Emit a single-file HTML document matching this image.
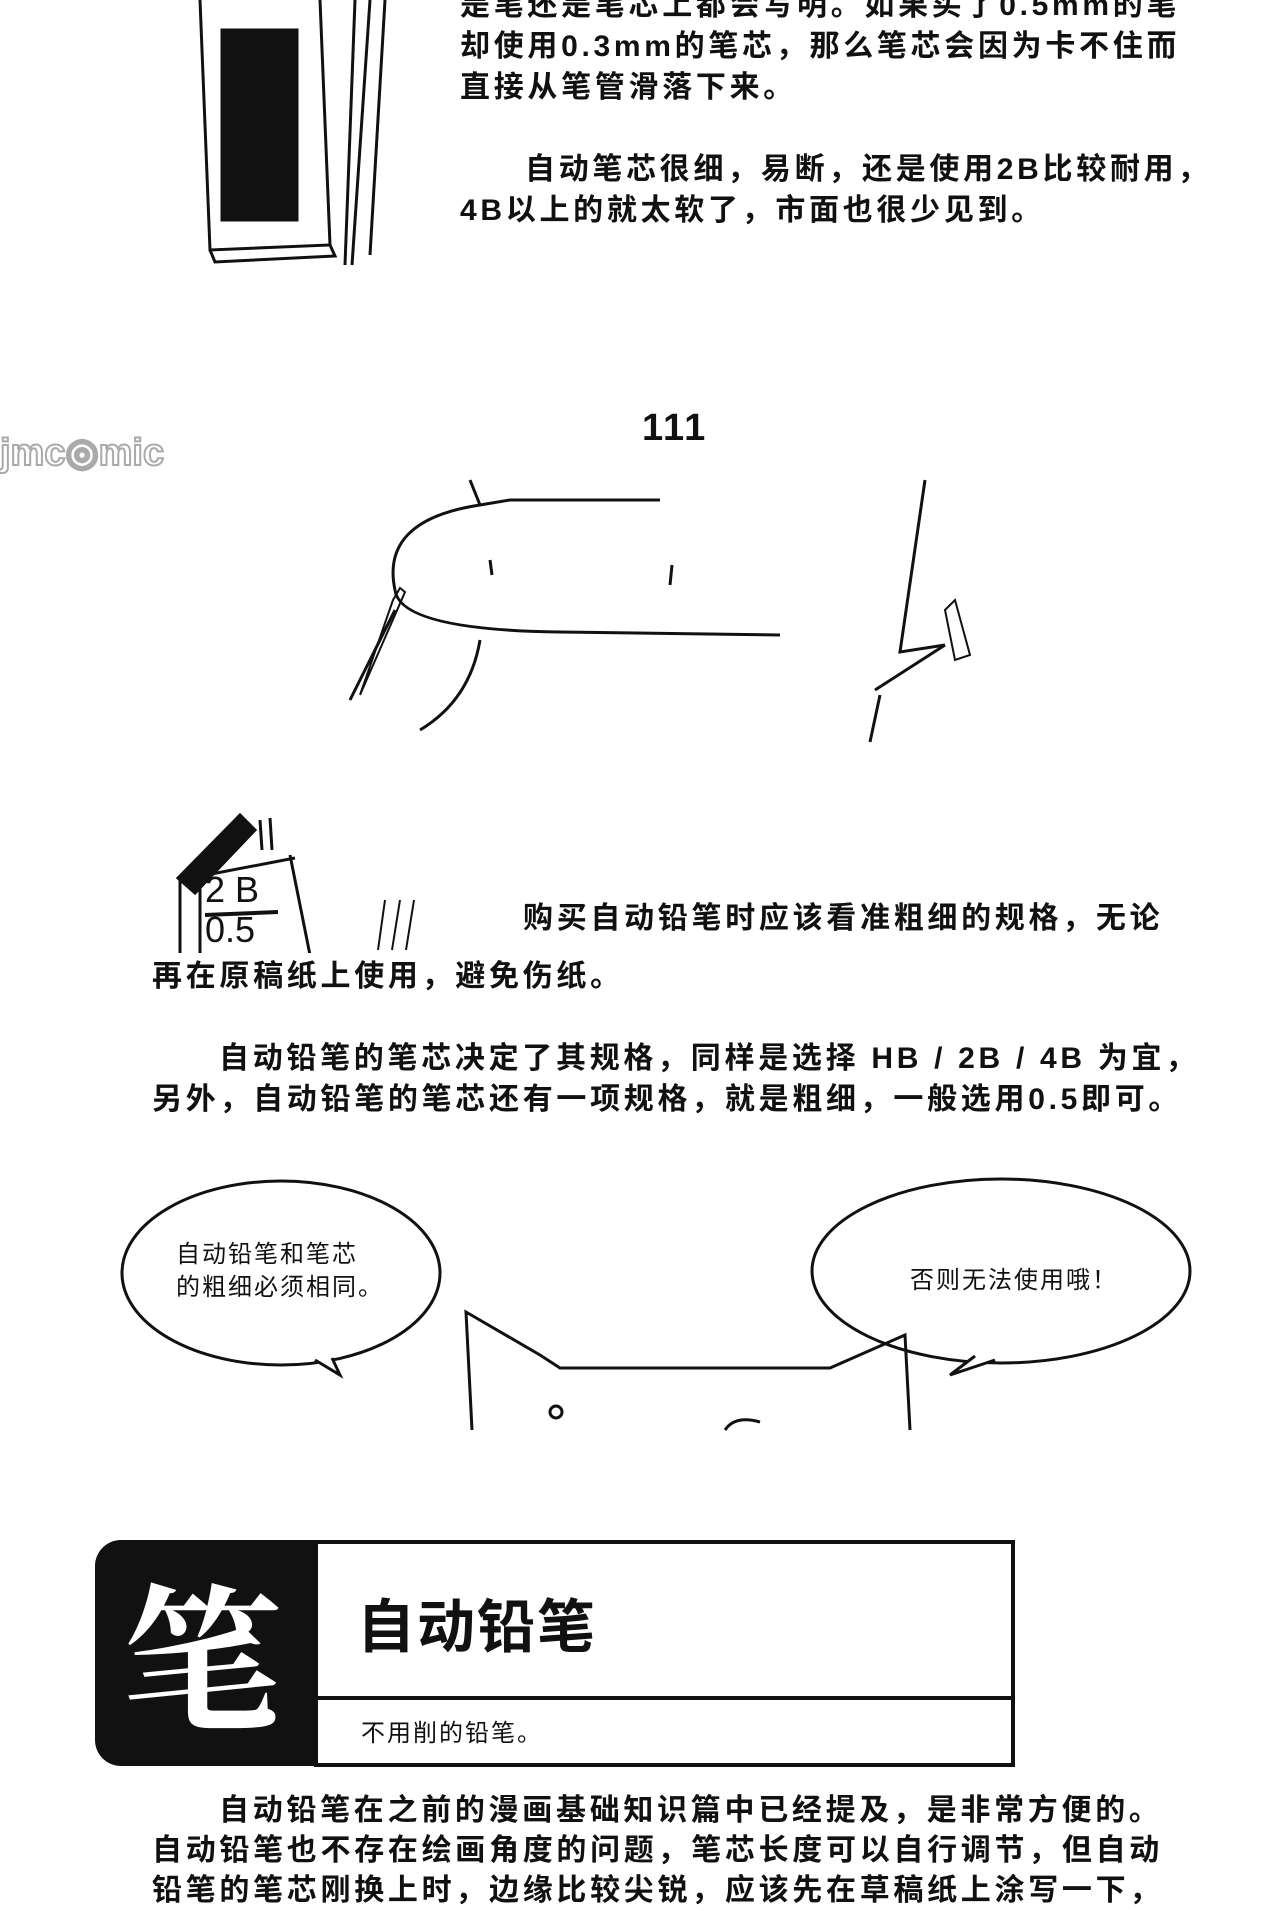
<!DOCTYPE html>
<html><head><meta charset="utf-8">
<style>
body{margin:0;width:1280px;height:1904px;background:#fff;position:relative;overflow:hidden;font-family:"Liberation Sans","Noto Sans CJK SC",sans-serif;color:#111}
.t{position:absolute;white-space:nowrap;font-size:30px;font-weight:bold;letter-spacing:3.7px;line-height:41px}
svg{position:absolute;left:0;top:0}
</style></head><body>
<svg width="1280" height="1904" viewBox="0 0 1280 1904">
<g fill="none" stroke="#111" stroke-width="3">
<path d="M200 0 L210 250 L330 245 L320 0"/>
<rect x="222" y="30" width="75" height="190" fill="#111"/>
<path d="M210 250 L215 262 L335 256 L330 245"/>
<path d="M355 0 L345 265 M370 0 L352 265 M385 0 L370 255"/>
<path d="M395 590 Q380 520 480 505 L510 500 Q640 500 660 500"/>
<path d="M395 590 Q400 630 560 632 L780 635"/>
<path d="M480 505 L470 480"/>
<path d="M925 480 L900 652 L945 645"/>
<path d="M880 695 L870 742"/>
<path d="M945 645 L875 690"/>
<path d="M480 640 Q470 700 420 730"/>
<path d="M395 610 L350 700"/>
<path d="M393 600 L400 588 L405 592 L360 695 Z" stroke-width="2"/>
<path d="M945 610 L955 600 L970 655 L955 660 Z" stroke-width="2"/>
<path d="M490 560 L492 575 M672 565 L670 585"/>
<path d="M180 880 L180 955 M200 875 L200 955 M290 855 L310 955 M180 880 L295 858"/>
<path d="M178 878 L240 815 L255 830 L195 893 Z" fill="#111"/>
<path d="M260 820 L262 850 M270 818 L272 850"/>
<path d="M205 915 L278 912" stroke-width="4"/>
<path d="M378 950 L385 900 M392 950 L400 900 M406 950 L414 900" stroke-width="2"/>
<ellipse cx="281" cy="1273" rx="159" ry="92"/>
<path d="M315 1360 L340 1375 L332 1358" fill="#fff"/>
<ellipse cx="1001" cy="1271" rx="189" ry="92"/>
<path d="M975 1356 L950 1375 L995 1360" fill="#fff"/>
<path d="M472 1430 L466 1312 L540 1355 L560 1368 L830 1368 L905 1335 L910 1430"/>
<circle cx="556" cy="1412" r="6"/>
<path d="M725 1430 Q735 1415 760 1422"/>
</g>
<text x="0" y="465" font-family="Liberation Sans" font-size="38" font-weight="bold" fill="#fff" stroke="#aaa" stroke-width="2">jmc◎mic</text>
<rect x="95" y="1540" width="300" height="226" rx="26" fill="#111"/>
<rect x="316" y="1542" width="697" height="223" fill="#fff" stroke="#111" stroke-width="4"/>
<line x1="316" y1="1698" x2="1013" y2="1698" stroke="#111" stroke-width="4"/>
</svg>
<div class="t" style="left:460px;top:-15px">是笔还是笔芯上都会写明。如果买了0.5mm的笔</div>
<div class="t" style="left:460px;top:26px">却使用0.3mm的笔芯，那么笔芯会因为卡不住而</div>
<div class="t" style="left:460px;top:67px">直接从笔管滑落下来。</div>
<div class="t" style="left:525px;top:149px">自动笔芯很细，易断，还是使用2B比较耐用，</div>
<div class="t" style="left:460px;top:190px">4B以上的就太软了，市面也很少见到。</div>
<div class="t" style="left:642px;top:408px;font-size:38px;letter-spacing:2px">111</div>
<div style="position:absolute;left:205px;top:870px;font-size:36px;line-height:40px;color:#111">2 B<br>0.5</div>
<div class="t" style="left:523px;top:898px">购买自动铅笔时应该看准粗细的规格，无论</div>
<div style="position:absolute;left:0;top:953px;width:1280px;height:20px;background:#fff"></div>
<div class="t" style="left:152px;top:956px">再在原稿纸上使用，避免伤纸。</div>
<div class="t" style="left:219px;top:1038px">自动铅笔的笔芯决定了其规格，同样是选择 HB / 2B / 4B 为宜，</div>
<div class="t" style="left:152px;top:1079px">另外，自动铅笔的笔芯还有一项规格，就是粗细，一般选用0.5即可。</div>
<div class="t" style="left:176px;top:1238px;font-size:24px;line-height:33px;letter-spacing:2px;font-weight:normal">自动铅笔和笔芯<br>的粗细必须相同。</div>
<div class="t" style="left:910px;top:1264px;font-size:24px;line-height:33px;letter-spacing:2px;font-weight:normal">否则无法使用哦！</div>
<div style="position:absolute;left:122px;top:1550px;font-size:160px;line-height:200px;color:#fff;font-family:'Noto Serif CJK SC',serif;font-weight:bold">笔</div>
<div class="t" style="left:357px;top:1593px;font-size:58px;line-height:70px;letter-spacing:2px">自动铅笔</div>
<div class="t" style="left:361px;top:1718px;font-size:24px;line-height:32px;font-weight:normal;letter-spacing:2px">不用削的铅笔。</div>
<div class="t" style="left:219px;top:1790px">自动铅笔在之前的漫画基础知识篇中已经提及，是非常方便的。</div>
<div class="t" style="left:152px;top:1830px">自动铅笔也不存在绘画角度的问题，笔芯长度可以自行调节，但自动</div>
<div class="t" style="left:152px;top:1870px">铅笔的笔芯刚换上时，边缘比较尖锐，应该先在草稿纸上涂写一下，</div>
</body></html>
